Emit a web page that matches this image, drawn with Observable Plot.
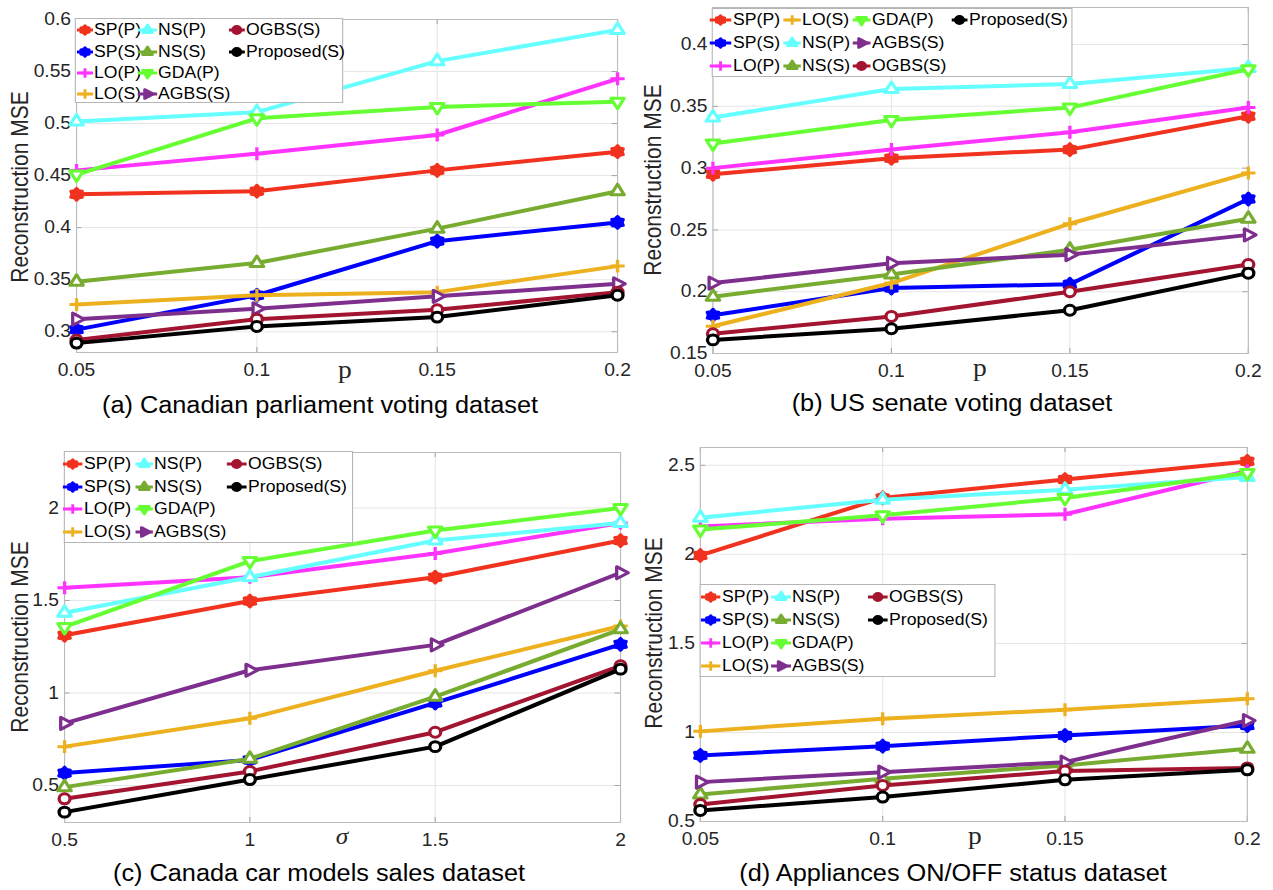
<!DOCTYPE html>
<html>
<head>
<meta charset="utf-8">
<script src="https://cdn.jsdelivr.net/npm/d3@7"></script>
<script src="https://cdn.jsdelivr.net/npm/@observablehq/plot@0.6"></script>
<style>
  html, body { margin: 0; padding: 0; background: #fff; overflow: hidden; }
  #root { position: relative; width: 1157.27px; height: 890px; transform: scaleX(1.1); transform-origin: 0 0; font-family: "Liberation Sans", Arial, Helvetica, sans-serif; }
  .panel { position: absolute; }
  .panel svg text { font-size: 17.5px; }
  .title { position: absolute; font-size: 23px; color: #000; white-space: nowrap; transform: translate(-50%, -50%); }
  .ylab { position: absolute; font-size: 21px; color: #262626; white-space: nowrap; transform: translate(-50%, -50%) rotate(-90deg); }
  .xlab { position: absolute; font-size: 25px; color: #262626; font-family: "Liberation Serif", "Times New Roman", serif; transform: translate(-50%, -55%); line-height: 1; }
  .legend { position: absolute; background: #fff; border: 1px solid #b5b5b5; box-sizing: border-box; }
  .litem { position: absolute; display: flex; align-items: center; font-size: 16px; color: #000; white-space: nowrap; transform: translateY(-50%); }
  .litem svg { display: block; margin-right: 1px; }
</style>
</head>
<body>
<div id="root"></div>
<script>
// ---------------- DATA ----------------
const seriesNames = ["SP(P)", "SP(S)", "LO(P)", "LO(S)", "NS(P)", "NS(S)", "GDA(P)", "AGBS(S)", "OGBS(S)", "Proposed(S)"];
const seriesColors = ["#f0321e", "#0000ff", "#ff33ff", "#edb120", "#66ffff", "#77ac30", "#66ff33", "#7e2f8e", "#a2142f", "#000000"];
const seriesMarkers = ["hexagram", "hexagram", "plus", "plus", "triUp", "triUp", "triDown", "triRight", "circle", "circle"];

const pValues = [0.05, 0.1, 0.15, 0.2];
const sigmaValues = [0.5, 1, 1.5, 2];
const pTickLabels = ["0.05", "0.1", "0.15", "0.2"];
const sigmaTickLabels = ["0.5", "1", "1.5", "2"];

const yTicksA = [0.3, 0.35, 0.4, 0.45, 0.5, 0.55, 0.6];
const yTicksB = [0.15, 0.2, 0.25, 0.3, 0.35, 0.4];
const yTicksC = [0.5, 1, 1.5, 2];
const yTicksD = [0.5, 1, 1.5, 2, 2.5];

const titles = [
  "(a) Canadian parliament voting dataset",
  "(b) US senate voting dataset",
  "(c) Canada car models sales dataset",
  "(d) Appliances ON/OFF status dataset"
];
const yAxisLabel = "Reconstruction MSE";

// rows follow seriesNames order
const mseCanadianParliament = [
  [0.432, 0.435, 0.455, 0.473],
  [0.302, 0.335, 0.387, 0.405],
  [0.455, 0.471, 0.489, 0.543],
  [0.326, 0.335, 0.338, 0.363],
  [0.502, 0.511, 0.560, 0.590],
  [0.348, 0.366, 0.399, 0.435],
  [0.451, 0.505, 0.516, 0.521],
  [0.312, 0.322, 0.334, 0.346],
  [0.292, 0.312, 0.321, 0.338],
  [0.289, 0.305, 0.314, 0.335]
];
const mseUSSenate = [
  [0.295, 0.308, 0.315, 0.342],
  [0.181, 0.203, 0.206, 0.275],
  [0.300, 0.315, 0.329, 0.349],
  [0.172, 0.207, 0.255, 0.296],
  [0.341, 0.364, 0.368, 0.381],
  [0.196, 0.214, 0.234, 0.259],
  [0.320, 0.339, 0.349, 0.380],
  [0.207, 0.223, 0.230, 0.246],
  [0.166, 0.180, 0.200, 0.222],
  [0.161, 0.170, 0.185, 0.215]
];
const mseCarSales = [
  [1.312, 1.497, 1.626, 1.824],
  [0.567, 0.638, 0.946, 1.263],
  [1.569, 1.626, 1.754, 1.919],
  [0.710, 0.863, 1.120, 1.362],
  [1.434, 1.626, 1.824, 1.919],
  [0.491, 0.644, 0.980, 1.344],
  [1.357, 1.713, 1.878, 2.000],
  [0.836, 1.123, 1.260, 1.650],
  [0.428, 0.576, 0.788, 1.147],
  [0.356, 0.532, 0.710, 1.129]
];
const mseAppliances = [
  [1.994, 2.317, 2.420, 2.522],
  [0.871, 0.923, 0.983, 1.039],
  [2.157, 2.200, 2.225, 2.468],
  [1.006, 1.077, 1.127, 1.189],
  [2.206, 2.307, 2.363, 2.434],
  [0.652, 0.740, 0.815, 0.908],
  [2.139, 2.219, 2.317, 2.457],
  [0.721, 0.777, 0.833, 1.067],
  [0.596, 0.702, 0.783, 0.801],
  [0.562, 0.637, 0.734, 0.790]
];

// ---------------- LAYOUT (target pixel coords, stretched horizontally by S) ----------------
const S = 1.1;
const X = v => v / S;

function polySym(angles, k) {
  return { draw(ctx, size) {
    const R = Math.sqrt(size / Math.PI) * k;
    angles.forEach((a, i) => {
      const t = a * Math.PI / 180;
      const px = R * Math.cos(t), py = R * Math.sin(t);
      if (i === 0) ctx.moveTo(px, py); else ctx.lineTo(px, py);
    });
    ctx.closePath();
  }};
}
const symbols = {
  hexagram: { draw(ctx, size) {
    const R = Math.sqrt(size / Math.PI) * 1.1, r2 = R / Math.sqrt(3) * 1.2;
    for (let k = 0; k < 12; k++) {
      const t = k * Math.PI / 6 - Math.PI / 2;
      const rr = k % 2 ? r2 : R;
      if (k === 0) ctx.moveTo(rr * Math.cos(t), rr * Math.sin(t)); else ctx.lineTo(rr * Math.cos(t), rr * Math.sin(t));
    }
    ctx.closePath();
  }},
  plus: { draw(ctx, size) {
    const R = Math.sqrt(size / Math.PI) * 1.2;
    ctx.moveTo(-R, 0); ctx.lineTo(R, 0); ctx.moveTo(0, -R); ctx.lineTo(0, R);
  }},
  triUp: polySym([-90, 30, 150], 1.3),
  triDown: polySym([90, 210, 330], 1.3),
  triRight: polySym([0, 120, 240], 1.3),
  circle: { draw(ctx, size) {
    const R = Math.sqrt(size / Math.PI) * 0.92;
    ctx.moveTo(R, 0); ctx.arc(0, 0, R, 0, 2 * Math.PI); ctx.closePath();
  }}
};
function markerFill(i) {
  const m = seriesMarkers[i];
  if (m === "hexagram") return seriesColors[i];
  if (m === "plus") return "none";
  return "white";
}

const panels = [
  { data: mseCanadianParliament, xs: pValues, xLabels: pTickLabels, xName: "p", italic: false, yTicks: yTicksA, yDomain: [0.28, 0.6],
    svg: { left: 0, top: 0, w: 636, h: 392 }, frame: { x0: 76, x1: 617, y0: 19, y1: 352 },
    title: { x: 320, y: 405 }, ylab: { x: 20, y: 187 }, xlab: { x: 345, y: 371 },
    legend: { box: [75, 18, 343, 103], rows: [30, 51.5, 73, 94], cols: [[85, 93], [147, 157], [237, 245]] } },
  { data: mseUSSenate, xs: pValues, xLabels: pTickLabels, xName: "p", italic: false, yTicks: yTicksB, yDomain: [0.15, 0.43],
    svg: { left: 636, top: 0, w: 637, h: 392 }, frame: { x0: 712.6, x1: 1248, y0: 7, y1: 353 },
    title: { x: 952, y: 403 }, ylab: { x: 653, y: 180 }, xlab: { x: 980, y: 369 },
    legend: { box: [712, 8, 1073, 77], rows: [20, 43, 66], cols: [[721, 732], [792, 801], [862, 871], [960, 968]] } },
  { data: mseCarSales, xs: sigmaValues, xLabels: sigmaTickLabels, xName: "σ", italic: true, yTicks: yTicksC, yDomain: [0.3, 2.3],
    svg: { left: 0, top: 440, w: 636, h: 420 }, frame: { x0: 64, x1: 620, y0: 452, y1: 822 },
    title: { x: 319, y: 873 }, ylab: { x: 20, y: 637 }, xlab: { x: 342, y: 838 },
    legend: { box: [64, 451, 353, 543], rows: [464, 487, 509, 532], cols: [[73, 83], [144, 153], [237, 247]] } },
  { data: mseAppliances, xs: pValues, xLabels: pTickLabels, xName: "p", italic: false, yTicks: yTicksD, yDomain: [0.5, 2.6],
    svg: { left: 636, top: 440, w: 637, h: 420 }, frame: { x0: 700, x1: 1247, y0: 447, y1: 821 },
    title: { x: 953, y: 873 }, ylab: { x: 655, y: 633 }, xlab: { x: 975, y: 837 },
    legend: { box: [700, 584, 996, 677], rows: [597, 620, 643, 666], cols: [[711, 721], [781, 791], [878, 888]] } }
];

const root = document.getElementById("root");

panels.forEach((P, pi) => {
  const rows = [];
  P.data.forEach((vals, si) => vals.forEach((v, j) => rows.push({ series: seriesNames[si], si, x: P.xs[j], y: v })));

  const f = P.frame, s = P.svg;
  const innerW = X(f.x1 - f.x0), innerH = f.y1 - f.y0;
  const tickLen = 5;

  const marks = [
    Plot.gridX(P.xs, { stroke: "#e6e6e6", strokeOpacity: 1 }),
    Plot.gridY(P.yTicks, { stroke: "#e6e6e6", strokeOpacity: 1 }),
    // inward tick marks on all four sides
    Plot.tickY(P.yTicks, { insetRight: innerW - tickLen, stroke: "#a6a6a6" }),
    Plot.tickY(P.yTicks, { insetLeft: innerW - tickLen, stroke: "#a6a6a6" }),
    Plot.tickX(P.xs, { insetTop: innerH - tickLen, stroke: "#a6a6a6" }),
    Plot.tickX(P.xs, { insetBottom: innerH - tickLen, stroke: "#a6a6a6" }),
    Plot.frame({ stroke: "#bcbcbc" }),
    Plot.axisX(P.xs, { tickSize: 0, tickPadding: 11, tickFormat: (d) => P.xLabels[P.xs.indexOf(d)], label: null, fontSize: 17.5, fill: "#262626" }),
    Plot.axisY(P.yTicks, { tickSize: 0, tickPadding: 5, tickFormat: d => String(d), label: null, fontSize: 17.5, fill: "#262626" })
  ];
  seriesNames.forEach((name, si) => {
    const sub = rows.filter(r => r.si === si);
    marks.push(Plot.line(sub, { x: "x", y: "y", stroke: seriesColors[si], strokeWidth: 4, strokeLinejoin: "round" }));
    marks.push(Plot.dot(sub, { x: "x", y: "y", symbol: symbols[seriesMarkers[si]], r: 5.4, stroke: seriesColors[si], fill: markerFill(si), strokeWidth: 3, strokeLinejoin: "round" }));
  });

  const chart = Plot.plot({
    width: X(s.w),
    height: s.h,
    marginLeft: X(f.x0 - s.left),
    marginRight: X(s.left + s.w - f.x1),
    marginTop: f.y0 - s.top,
    marginBottom: s.top + s.h - f.y1,
    x: { domain: [P.xs[0], P.xs[P.xs.length - 1]] },
    y: { domain: P.yDomain },
    style: { fontFamily: "'Liberation Sans', Arial, Helvetica, sans-serif", fontSize: "17.5px", background: "transparent", overflow: "visible" },
    marks
  });
  const wrap = document.createElement("div");
  wrap.className = "panel";
  wrap.style.left = X(s.left) + "px";
  wrap.style.top = s.top + "px";
  wrap.appendChild(chart);
  root.appendChild(wrap);

  const t = document.createElement("div");
  t.className = "title"; t.textContent = titles[pi];
  t.style.left = X(P.title.x) + "px"; t.style.top = P.title.y + "px";
  root.appendChild(t);
  const yl = document.createElement("div");
  yl.className = "ylab"; yl.textContent = yAxisLabel;
  yl.style.left = X(P.ylab.x) + "px"; yl.style.top = P.ylab.y + "px";
  root.appendChild(yl);
  const xl = document.createElement("div");
  xl.className = "xlab"; xl.textContent = P.xName;
  if (P.italic) { xl.style.fontStyle = "italic"; xl.style.fontSize = "23px"; }
  xl.style.left = X(P.xlab.x) + "px"; xl.style.top = P.xlab.y + "px";
  root.appendChild(xl);

  const L = P.legend;
  const box = document.createElement("div");
  box.className = "legend";
  box.style.left = X(L.box[0]) + "px"; box.style.top = L.box[1] + "px";
  box.style.width = X(L.box[2] - L.box[0]) + "px"; box.style.height = (L.box[3] - L.box[1]) + "px";
  root.appendChild(box);
  const nRows = L.rows.length;
  seriesNames.forEach((name, si) => {
    const c = Math.floor(si / nRows), r = si % nRows;
    const [mx, tx] = L.cols[c];
    const item = document.createElement("div");
    item.className = "litem";
    const iw = 2 * X(tx - mx);
    item.style.left = X(mx) - iw / 2 + "px";
    item.style.top = L.rows[r] + "px";
    const p = d3.path();
    symbols[seriesMarkers[si]].draw(p, 16 * Math.PI);
    const svgNS = "http://www.w3.org/2000/svg";
    const icon = document.createElementNS(svgNS, "svg");
    icon.setAttribute("width", iw); icon.setAttribute("height", 16);
    const g = document.createElementNS(svgNS, "g");
    g.setAttribute("transform", `translate(${iw / 2},8)`);
    const ln = document.createElementNS(svgNS, "line");
    ln.setAttribute("x1", -iw / 2); ln.setAttribute("x2", iw / 2); ln.setAttribute("y1", 0); ln.setAttribute("y2", 0);
    ln.setAttribute("stroke", seriesColors[si]); ln.setAttribute("stroke-width", 3);
    const mk = document.createElementNS(svgNS, "path");
    mk.setAttribute("d", p.toString());
    mk.setAttribute("stroke", seriesColors[si]);
    mk.setAttribute("stroke-width", 2.6);
    mk.setAttribute("stroke-linejoin", "round");
    mk.setAttribute("fill", seriesMarkers[si] === "plus" ? "none" : seriesColors[si]);
    g.appendChild(ln); g.appendChild(mk); icon.appendChild(g);
    const span = document.createElement("span");
    span.textContent = name;
    item.appendChild(icon); item.appendChild(span);
    root.appendChild(item);
  });
});
</script>
</body>
</html>
